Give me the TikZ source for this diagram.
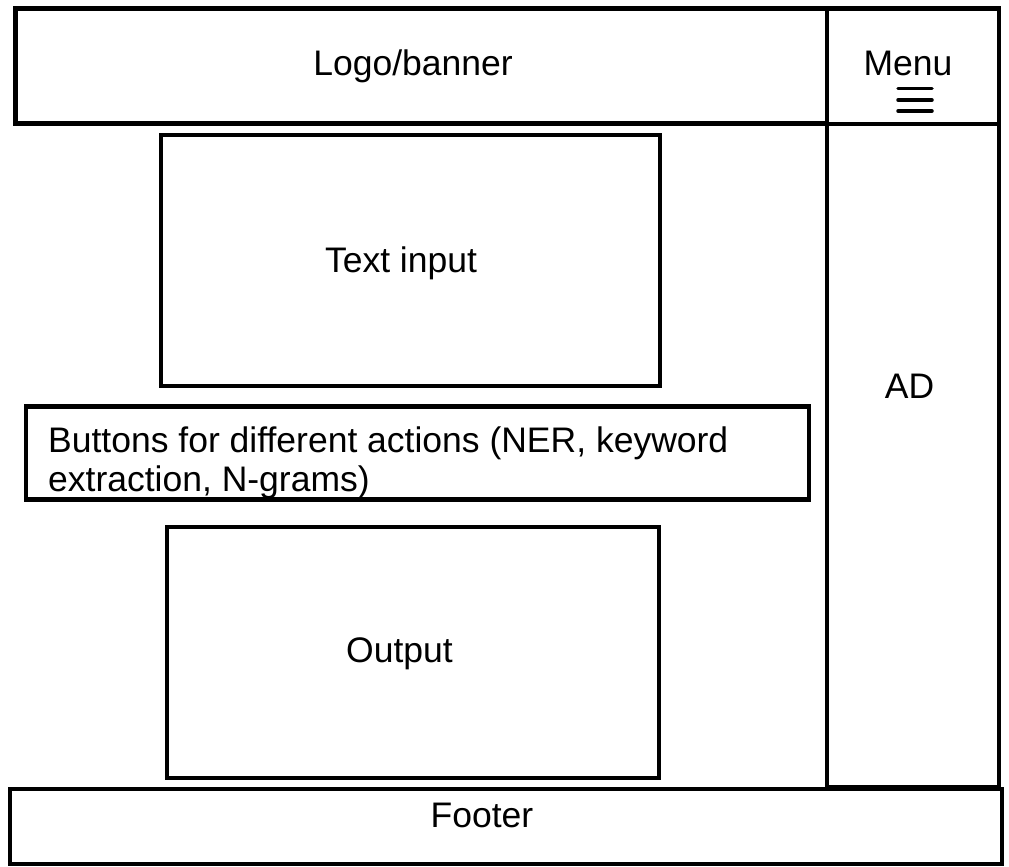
\documentclass[tikz,border=0pt]{standalone}
\usepackage{fontspec}
\setmainfont{Liberation Sans}
\begin{document}
\begin{tikzpicture}[x=1pt,y=-1pt,
  box/.style={draw=black,line width=4.8pt,rectangle,inner sep=0pt,outer sep=0pt},
  lbl/.style={inner sep=0pt,anchor=base,font=\fontsize{35.5}{40}\selectfont},
  burger/.style={line width=3.5pt,line cap=round}]
\useasboundingbox (0,0) rectangle (1009,867);
\node[box,minimum width=811.5pt,minimum height=115pt] (logo) at (421.25,66) {};
\node[box,minimum width=172pt,minimum height=115.5pt] (menu) at (913,66.25) {};
\node[box,minimum width=172pt,minimum height=663pt] (ad) at (913,455.5) {};
\node[box,minimum width=499pt,minimum height=251pt] (textin) at (410.5,260.5) {};
\node[box,minimum width=492pt,minimum height=251pt] (output) at (413,652.5) {};
\node[box,minimum width=992pt,minimum height=75pt] (footer) at (506,826.5) {};
\node[lbl] (logot) at (413,76) {Logo/banner};
\node[lbl] (menut) at (908,76) {Menu};
\coordinate (b1l) at (898,88.5); \coordinate (b1r) at (932,88.5);
\coordinate (b2l) at (898,100); \coordinate (b2r) at (932,100);
\coordinate (b3l) at (898,111); \coordinate (b3r) at (932,111);
\draw[burger] (b1l) -- (b1r);
\draw[burger] (b2l) -- (b2r);
\draw[burger] (b3l) -- (b3r);
\node[lbl] (textint) at (401,272) {Text input};
\node[lbl] (adt) at (909.5,398.5) {AD};
\node[lbl,anchor=base west] (btn1) at (48,452) {Buttons for different actions (NER, keyword};
\node[lbl,anchor=base west] (btn2) at (48,491) {extraction, N-grams)};
\node[box,minimum width=783pt,minimum height=93pt] (buttons) at (417.5,453) {};
\node[lbl] (outputt) at (399.5,662.5) {Output};
\node[lbl] (footert) at (482,827) {Footer};
\end{tikzpicture}
\end{document}
